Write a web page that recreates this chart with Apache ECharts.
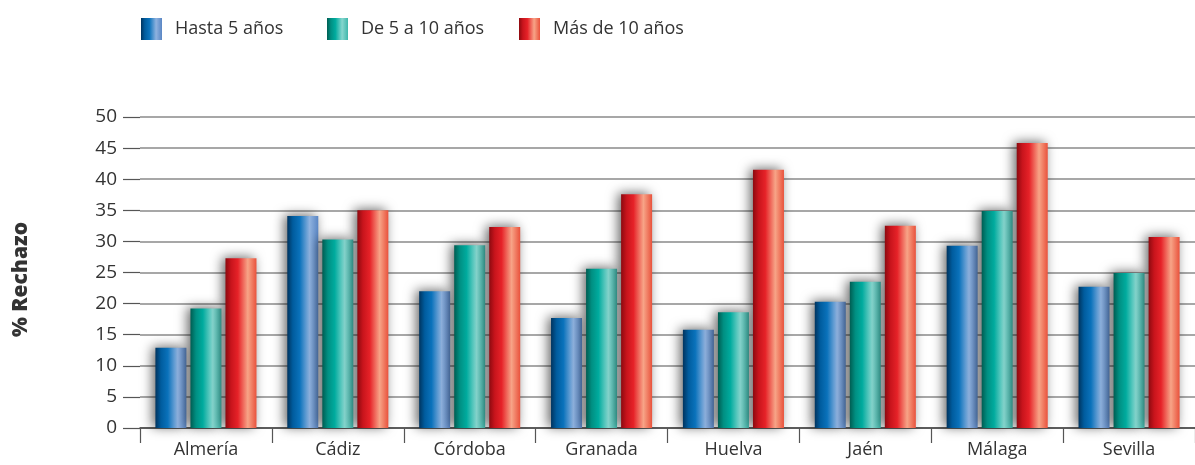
<!DOCTYPE html>
<html><head><meta charset="utf-8">
<script src="https://cdn.jsdelivr.net/npm/echarts@6/dist/echarts.min.js"></script>
<style>html,body{margin:0;padding:0;background:#fff}#c{width:1195px;height:465px}</style>
</head><body><div id="c"></div>
<script>
const categories = ['Almería','Cádiz','Córdoba','Granada','Huelva','Jaén','Málaga','Sevilla'];
const seriesNames = ['Hasta 5 años','De 5 a 10 años','Más de 10 años'];
const hasta5 = [12.9, 34.1, 22.0, 17.7, 15.8, 20.3, 29.3, 22.7];
const de5a10 = [19.2, 30.3, 29.4, 25.6, 18.6, 23.5, 34.9, 24.9];
const mas10 = [27.3, 35.0, 32.3, 37.6, 41.5, 32.5, 45.8, 30.7];
const yTicks = [0,5,10,15,20,25,30,35,40,45,50];

const FONT = '"Open Sans", "DejaVu Sans", sans-serif';
function grad(stops){
  return new echarts.graphic.LinearGradient(0,0,1,0, stops.map((c)=>({offset:c[0],color:c[1]})));
}
const fills = [
  grad([[0,'#00345f'],[0.18,'#005c9e'],[0.4,'#0a72bb'],[0.72,'#8fb2df'],[1,'#5a86c4']]),
  grad([[0,'#005d52'],[0.18,'#008f82'],[0.4,'#00ab9e'],[0.72,'#86d6ce'],[1,'#3fb7ab']]),
  grad([[0,'#8d0a10'],[0.18,'#c8141c'],[0.4,'#e62228'],[0.72,'#f7a487'],[1,'#e9523c']])
];
const data = [hasta5, de5a10, mas10];
const legendLeft = [141, 327, 519];

const chart = echarts.init(document.getElementById('c'), null, {renderer:'canvas'});
chart.setOption({
  animation:false,
  backgroundColor:'#fff',
  legend: seriesNames.map((n,i)=>({
    data:[n], left:legendLeft[i], top:18, itemWidth:21, itemHeight:22, itemGap:0, padding:0,
    textStyle:{fontFamily:FONT, fontSize:18, color:'#333', padding:[0,0,0,8]},
    icon:'rect'
  })),
  grid:{left:140, right:0, top:117, bottom:37, containLabel:false},
  xAxis:{
    type:'category', data:categories,
    axisLine:{lineStyle:{color:'#444', width:1.5}},
    axisTick:{show:true, length:15, lineStyle:{color:'#555', width:1.2}},
    axisLabel:{fontFamily:FONT, fontSize:18, color:'#333', margin:13}
  },
  yAxis:{
    type:'value', min:yTicks[0], max:yTicks[yTicks.length-1], interval:5,
    name:'% Rechazo', nameLocation:'middle', nameGap:108, nameRotate:90,
    nameTextStyle:{fontFamily:FONT, fontSize:21, fontWeight:800, color:'#333', padding:[0,14,0,0]},
    axisLine:{show:false},
    axisTick:{show:true, length:17, lineStyle:{color:'#555', width:1.2}},
    axisLabel:{fontFamily:FONT, fontSize:19, color:'#333', margin:23},
    splitLine:{lineStyle:{color:'#8a8a8a', width:1.5}}
  },
  series: seriesNames.map((n,i)=>({
    name:n, type:'bar', data:data[i], barWidth:31, barGap:'13%',
    itemStyle:{color:fills[i], shadowColor:'rgba(0,0,0,0.6)', shadowBlur:12, shadowOffsetX:-3, shadowOffsetY:-1},
    emphasis:{disabled:true}
  }))
});
</script></body></html>
